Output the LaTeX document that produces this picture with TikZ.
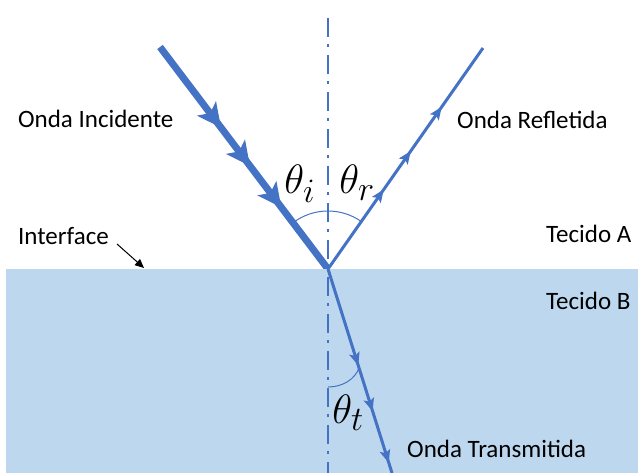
\documentclass[tikz,border=0pt]{standalone}
\usepackage{fontspec}
\setmainfont{Carlito}
\usetikzlibrary{arrows.meta,decorations.markings,calc}
\definecolor{wave}{HTML}{4472C4}
\definecolor{tissue}{HTML}{BDD7EE}
\newcommand{\mybighead}{\fill[wave] (2pt,0pt) -- (-22pt,12pt) -- (-16pt,0pt) -- (-22pt,-12pt) -- cycle;}
\newcommand{\mysmallhead}{\fill[wave] (1pt,0pt) -- (-12pt,5.5pt) -- (-9pt,0pt) -- (-12pt,-5.5pt) -- cycle;}
\tikzset{
  lbl/.style={anchor=base west,inner sep=0pt,font=\fontsize{25}{30}\selectfont},
  ang/.style={anchor=base west,inner sep=0pt,scale=1.65,font=\fontsize{24.88}{30}\selectfont},
  incident/.style={draw=wave,line width=7pt,postaction={decorate},
    decoration={markings,
      mark=at position 99pt with {\mybighead},
      mark=at position 147pt with {\mybighead},
      mark=at position 199pt with {\mybighead}}},
  refl/.style={draw=wave,line width=3pt,postaction={decorate},
    decoration={markings,
      mark=at position 96pt with {\mysmallhead},
      mark=at position 143pt with {\mysmallhead},
      mark=at position 197pt with {\mysmallhead}}},
  trans/.style={draw=wave,line width=3pt,postaction={decorate},
    decoration={markings,
      mark=at position 100pt with {\mysmallhead},
      mark=at position 148pt with {\mysmallhead},
      mark=at position 202pt with {\mysmallhead}}},
  normalline/.style={draw=wave,line width=2pt,dash pattern=on 19pt off 7pt on 3pt off 8pt},
  anglearc/.style={draw=wave,line width=1pt},
}
\begin{document}
\begin{tikzpicture}[x=1pt,y=-1pt]
\useasboundingbox (0,0) rectangle (638,473);
\coordinate (O) at (328,269);
\coordinate (S) at (160,47);
\coordinate (R) at (483,48);
\coordinate (T) at (392,473);
\coordinate (Ntop) at (328,18);
\coordinate (Nbot) at (328,473);
% incident and reflected rays
\draw[incident] (S) -- (O);
\draw[refl] (O) -- (R);
% tissue B
\fill[tissue] (6,269) rectangle (638,473);
% normal
\draw[normalline] (Ntop) -- (Nbot);
% transmitted ray
\draw[trans] (O) -- (T);
% angle arcs
\draw[anglearc] ([shift={(-127.1:58)}]O) arc[start angle=-127.1,end angle=-54.9,radius=58];
\coordinate (ta) at (328,387);
\coordinate (tb) at ($(O)!0.485!(T)$);
\draw[anglearc] (ta) .. controls (343,387) and (355,379) .. (tb);
% labels
\node[lbl] (inc) at (18,128) {Onda Incidente};
\node[lbl] (ref) at (457,129) {Onda Refletida};
\node[lbl] (intf) at (18,245) {Interface};
\node[lbl] (ta1) at (546,243) {Tecido A};
\node[lbl] (tb1) at (546,310) {Tecido B};
\node[lbl] (tra) at (407,457) {Onda Transmitida};
\node[ang] (thi) at (284,194) {$\theta_i$};
\node[ang] (thr) at (339,194) {$\theta_r$};
\node[ang] (tht) at (332,424) {$\theta_t$};
% interface arrow
\coordinate (ia) at (117,244);
\coordinate (ib) at (144,268);
\draw[-{Triangle[length=9pt,width=8pt]},line width=1pt] (ia) -- (ib);
\end{tikzpicture}
\end{document}
